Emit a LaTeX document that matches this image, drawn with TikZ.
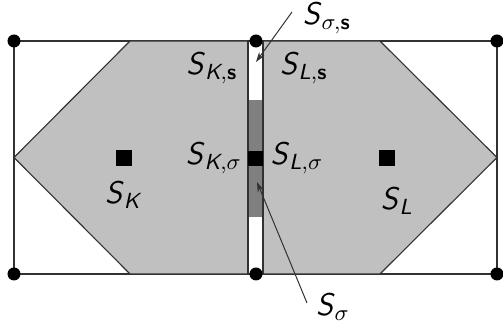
\documentclass[tikz,border=0pt]{standalone}
\usepackage{amsmath}
\usetikzlibrary{arrows.meta}
\newcommand{\mS}{\textsf{\slshape S}}
\newcommand{\mK}{\textsf{\slshape K}}
\newcommand{\mL}{\textsf{\slshape L}}
\newcommand{\mbs}{\textsf{\bfseries s}}
\definecolor{cellgray}{RGB}{192,192,192}
\definecolor{stripgray}{RGB}{128,128,128}
\definecolor{edgegray}{RGB}{50,50,50}
\tikzset{
  cell/.style={fill=cellgray, draw=edgegray, line width=0.45pt},
  frame/.style={draw=edgegray, line width=0.45pt},
  vertex/.style={circle, fill=black, inner sep=0pt, minimum size=5.2pt},
  center/.style={rectangle, fill=black, inner sep=0pt, minimum size=6.4pt},
  lbl/.style={inner sep=1pt, font=\fontsize{12.5}{14}\selectfont},
  pointer/.style={draw=edgegray, line width=0.4pt, -{Stealth[length=4pt,width=2.6pt]}}
}
\begin{document}
\begin{tikzpicture}[x=0.4pt, y=-0.4pt]
\useasboundingbox (0,0) rectangle (503,325);
% frame
\draw[frame] (14,41) rectangle (497,274);
% cells
\draw[cell] (130,41) -- (248,41) -- (248,274) -- (130,274) -- (14,157.5) -- cycle;
\draw[cell] (263,41) -- (380,41) -- (497,157.5) -- (380,274) -- (263,274) -- cycle;
% strip
\draw[frame, fill=white] (248,41) rectangle (263,274);
\fill[stripgray] (248,100) rectangle (263,217);
\draw[frame] (248,41) -- (248,274) (263,41) -- (263,274);
\fill[black] (248,151) rectangle (263,166);
% vertices
\node[vertex] (v1) at (14,41) {};
\node[vertex] (v2) at (256,41) {};
\node[vertex] (v3) at (497,41) {};
\node[vertex] (v4) at (14,274) {};
\node[vertex] (v5) at (256,274) {};
\node[vertex] (v6) at (497,274) {};
% centers
\node[center] (cK) at (124,158) {};
\node[center] (cL) at (387,158) {};
% labels
\node[lbl] (lK) at (123,195) {\mS$_{\mK}$};
\node[lbl] (lL) at (397,201) {\mS$_{\mL}$};
\node[lbl] (lKs) at (212,68) {\mS$_{\mK,\mbs}$};
\node[lbl] (lLs) at (304,68) {\mS$_{\mL,\mbs}$};
\node[lbl] (lKsig) at (214,158) {\mS$_{\mK,\sigma}$};
\node[lbl] (lLsig) at (297,158) {\mS$_{\mL,\sigma}$};
\node[lbl] (lsigs) at (327,18) {\mS$_{\sigma,\mbs}$};
\node[lbl] (lsig) at (333,307) {\mS$_{\sigma}$};
% pointers
\coordinate (tipsigs) at (256,62);
\coordinate (tipsig) at (257,182);
\coordinate (startsigs) at (292,12);
\coordinate (startsig) at (307,303);
\draw[pointer] (startsigs) -- (tipsigs);
\draw[pointer] (startsig) -- (tipsig);
\end{tikzpicture}
\end{document}
